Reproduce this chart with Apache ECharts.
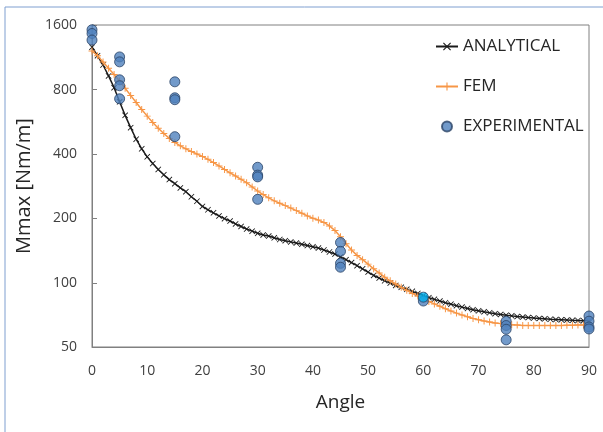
<!DOCTYPE html>
<html>
<head>
    <meta http-equiv="content-type" content="text/html;charset=utf-8" />
    <title>Mmax vs Angle</title>
    <script src="https://cdn.jsdelivr.net/npm/echarts@6/dist/echarts.min.js"></script>
    <style>
        html, body { margin: 0; padding: 0; background: #fff; }
    </style>
</head>
<body>
    <div id="main" style="width: 603px;height:432px;"></div>
    <script type="text/javascript">
        // angles (deg) for both curves
        var angles = [0,1,2,3,4,5,6,7,8,9,10,11,12,13,14,15,16,17,18,19,20,21,22,23,24,25,26,27,28,29,30,
            31,32,33,34,35,36,37,38,39,40,41,42,43,44,45,46,47,48,49,50,51,52,53,54,55,56,57,58,59,60,
            61,62,63,64,65,66,67,68,69,70,71,72,73,74,75,76,77,78,79,80,81,82,83,84,85,86,87,88,89,90];

        // analytical curve, Nm/m
        var analytical = [1260,1150,1040,925,815,700,605,530,468,422,387,360,338,319,303,290,277,266,252,240,227,
            219,212,205,199,194,188,183,178,174,170,167,165,162,159,157,155,153,151,149,147,145,142,139,136,132,
            128,124,120,116,112,108,105,102,99.5,97,95,93,91,89,87,85,83.5,82,80.5,79.3,78,76.8,75.7,74.7,73.8,
            73,72.3,71.6,71,70.4,69.9,69.4,69,68.6,68.3,68,67.7,67.4,67.2,67,66.8,66.6,66.5,66.4,66.3];

        // FEM curve, Nm/m
        var fem = [1210,1150,1075,1005,940,875,810,750,695,645,600,560,527,498,472,452,436,422,410,399,389,
            377,364,351,338,326,315,304,293,280,268,258,249,241,235,229,223,217,211,205,200,196,191,184,175,164,
            152,142,134,128,122,116,111,106,102,98.5,95,92,89,86.5,84,81.5,79.5,77.5,75.5,73.7,72,70.5,69.2,68,67,
            66.2,65.5,64.8,64.3,63.8,63.5,63.3,63.1,63,63,63,63,63,63.1,63.1,63.2,63.2,63.3,63.3,63.4];

        // experimental points
        var expAngle = [0,0,0, 5,5,5,5,5, 15,15,15,15, 30,30,30,30, 45,45,45,45, 60,60, 75,75,75,75, 90,90,90,90];
        var expValue = [1520,1460,1360, 1135,1076,887,832,723, 868,731,716,481, 346,318,312,245,
            154,140,123,118, 82,85.5, 66,63,60.5,54, 69.8,66,62,60.7];

        var yTicks = [50, 100, 200, 400, 800, 1600];

        var font = 'Open Sans';
        var crossPath = 'path://M0,1L1,0L5,4L9,0L10,1L6,5L10,9L9,10L5,6L1,10L0,9L4,5Z';
        var plusPath = 'path://M4.3,0H5.7V4.3H10V5.7H5.7V10H4.3V5.7H0V4.3H4.3Z';

        var myChart = echarts.init(document.getElementById('main'));

        var expData = expAngle.map(function (a, i) {
            var item = { value: [a, expValue[i]] };
            if (a === 60 && expValue[i] === 85.5) {
                item.itemStyle = { color: '#00B0F0' };
            }
            return item;
        });

        // log ticks come back slightly off (1596...), snap label to the nearest tick value
        function tickLabel(v) {
            var best = yTicks[0];
            yTicks.forEach(function (t) {
                if (Math.abs(Math.log(t / v)) < Math.abs(Math.log(best / v))) best = t;
            });
            return best;
        }

        var option = {
            animation: false,
            backgroundColor: '#ffffff',
            graphic: [{
                type: 'rect',
                shape: { x: 5, y: 7, width: 700, height: 600 },
                style: { fill: 'none', stroke: '#7F9FD0', lineWidth: 1 },
                silent: true
            }],
            grid: {
                left: 92, right: 14, top: 25, bottom: 85,
                show: true, borderColor: '#808080', borderWidth: 1
            },
            legend: {
                orient: 'vertical',
                left: 430,
                top: 33,
                itemGap: 23,
                itemWidth: 22,
                itemHeight: 10,
                textStyle: { fontFamily: font, fontSize: 17, color: '#262626' },
                data: ['ANALYTICAL', 'FEM', 'EXPERIMENTAL']
            },
            xAxis: {
                type: 'value',
                min: 0, max: 90, interval: 10,
                name: 'Angle',
                nameLocation: 'middle',
                nameGap: 46,
                nameTextStyle: { fontFamily: font, fontSize: 19, color: '#262626' },
                axisLine: { lineStyle: { color: '#808080' } },
                axisTick: { show: false },
                splitLine: { show: false },
                axisLabel: { fontFamily: font, fontSize: 14, color: '#404040', margin: 17 }
            },
            yAxis: {
                type: 'log',
                logBase: 2,
                min: yTicks[0], max: yTicks[yTicks.length - 1], interval: 1,
                name: 'Mmax [Nm/m]',
                nameLocation: 'middle',
                nameRotate: 90,
                nameGap: 47,
                nameTextStyle: { fontFamily: font, fontSize: 20, color: '#262626' },
                axisLine: { show: true, lineStyle: { color: '#808080' } },
                axisTick: { show: true, inside: true, length: 5, lineStyle: { color: '#808080' } },
                splitLine: { show: false },
                axisLabel: {
                    fontFamily: font, fontSize: 14, color: '#404040', margin: 15,
                    formatter: tickLabel
                }
            },
            series: [{
                name: 'ANALYTICAL',
                type: 'line',
                data: angles.map(function (a, i) { return [a, analytical[i]]; }),
                symbol: crossPath,
                symbolSize: 6,
                showAllSymbol: true,
                itemStyle: { color: '#1a1a1a' },
                lineStyle: { color: '#1a1a1a', width: 1.5 },
                z: 2
            }, {
                name: 'FEM',
                type: 'line',
                data: angles.map(function (a, i) { return [a, fem[i]]; }),
                symbol: plusPath,
                symbolSize: 7,
                showAllSymbol: true,
                itemStyle: { color: '#F79646' },
                lineStyle: { color: '#F79646', width: 1.5 },
                z: 3
            }, {
                name: 'EXPERIMENTAL',
                type: 'scatter',
                data: expData,
                symbol: 'circle',
                symbolSize: 10,
                itemStyle: { color: '#4F81BD', borderColor: '#2A4467', borderWidth: 1 },
                z: 4
            }]
        };

        myChart.setOption(option);
    </script>
</body>
</html>
